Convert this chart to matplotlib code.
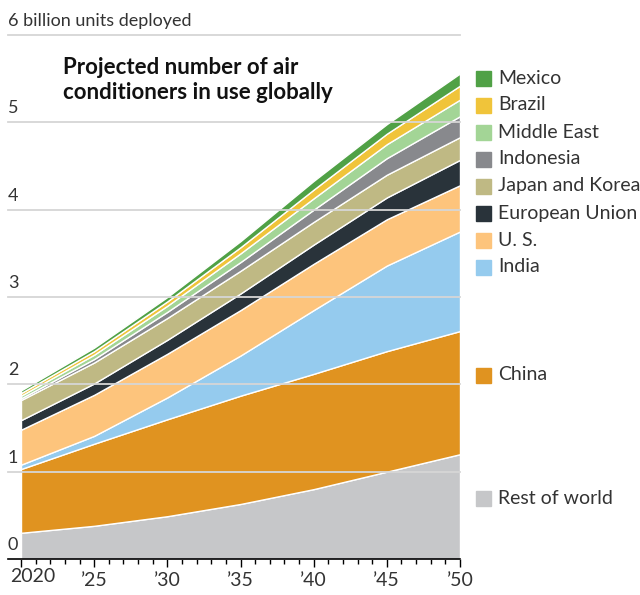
import matplotlib
matplotlib.use("Agg")
import matplotlib.pyplot as plt
from matplotlib.patches import Rectangle

plt.rcParams['font.family'] = ['Lato', 'DejaVu Sans']

# ============================
# Data (billion units, per region, stacked bottom -> top)
# ============================
years = [2020, 2025, 2030, 2035, 2040, 2045, 2050]

rest_of_world = [0.30, 0.38, 0.49, 0.63, 0.80, 1.00, 1.20]
china = [0.73, 0.94, 1.11, 1.24, 1.32, 1.38, 1.41]
india = [0.05, 0.09, 0.25, 0.46, 0.73, 0.98, 1.14]
us = [0.40, 0.47, 0.50, 0.52, 0.53, 0.53, 0.53]
eu = [0.11, 0.13, 0.16, 0.19, 0.22, 0.25, 0.29]
japan_korea = [0.23, 0.24, 0.25, 0.26, 0.26, 0.26, 0.26]
indonesia = [0.02, 0.04, 0.07, 0.10, 0.14, 0.19, 0.24]
middle_east = [0.03, 0.05, 0.07, 0.10, 0.13, 0.16, 0.19]
brazil = [0.03, 0.04, 0.05, 0.07, 0.10, 0.12, 0.16]
mexico = [0.03, 0.04, 0.05, 0.07, 0.10, 0.11, 0.14]

regions = ["Rest of world", "China", "India", "U. S.", "European Union",
           "Japan and Korea", "Indonesia", "Middle East", "Brazil", "Mexico"]
colors = ["#c6c7c9", "#e09320", "#95cbee", "#fdc47c", "#29333a",
          "#bfb984", "#88898d", "#a3d596", "#f0c43a", "#50a146"]

xtick_years = [2020, 2025, 2030, 2035, 2040, 2045, 2050]
xtick_labels = ["2020", "\u201925", "\u201930", "\u201935", "\u201940", "\u201945", "\u201950"]
ytick_values = [0, 1, 2, 3, 4, 5, 6]
ytick_labels = ["0", "1", "2", "3", "4", "5", "6 billion units deployed"]

text_col = "#333333"
grid_col = "#d6d6d6"

# ============================
# Figure
# ============================
W, H = 640, 595
fig = plt.figure(figsize=(W / 100, H / 100), dpi=100)
ax = fig.add_axes([21 / W, 36 / H, 439 / W, 524 / H])

series = [rest_of_world, china, india, us, eu, japan_korea,
          indonesia, middle_east, brazil, mexico]
ax.stackplot(years, *series, colors=colors, edgecolor="white", linewidth=1.0, zorder=2)

ax.set_xlim(2020, 2050)
ax.set_ylim(0, 6)
for s in ax.spines.values():
    s.set_visible(False)

# gridlines reaching out to the left labels
x_left = 2020 - 13 / 439 * 30
for v, lab in zip(ytick_values, ytick_labels):
    if v > 0:
        ax.plot([x_left, 2050], [v, v], color=grid_col, lw=1.3, zorder=3, clip_on=False)
    ax.text(x_left, v + 0.07, lab, ha="left", va="bottom", fontsize=13, color=text_col)
ax.plot([x_left, 2050], [0, 0], color="black", lw=1.2, zorder=4, clip_on=False)
ax.set_yticks([])

# x ticks; the first label is pushed left like the original
ax.set_xticks(xtick_years)
ax.set_xticklabels([""] + xtick_labels[1:])
ax.set_xticks(range(2020, 2051), minor=True)
ax.tick_params(axis="x", which="major", length=6, width=1, color="black",
               labelsize=14, labelcolor=text_col, pad=3)
ax.tick_params(axis="x", which="minor", length=3.5, width=1, color="black")
ax.annotate(xtick_labels[0], xy=(xtick_years[0], 0), xycoords=("data", "axes fraction"),
            xytext=(-7.5, -6.5), textcoords="offset points", ha="left", va="top",
            fontsize=14, color=text_col, annotation_clip=False)

# title
fig.text(63 / W, 1 - 57 / H, "Projected number of air\nconditioners in use globally",
         ha="left", va="top", fontsize=16, fontweight="bold", color="#111111",
         linespacing=1.22)

# legend
legend_y = {"Mexico": 78, "Brazil": 105, "Middle East": 132, "Indonesia": 159,
            "Japan and Korea": 186, "European Union": 213, "U. S.": 240,
            "India": 267, "China": 375, "Rest of world": 498}
for name, col in zip(regions, colors):
    yc = legend_y[name]
    fig.patches.append(Rectangle((476 / W, 1 - (yc + 8) / H), 15 / W, 15 / H,
                                 transform=fig.transFigure, color=col))
    fig.text(498 / W, 1 - yc / H, name, ha="left", va="center",
             fontsize=14, color=text_col)

plt.savefig("out.png", dpi=100)
plt.close()
